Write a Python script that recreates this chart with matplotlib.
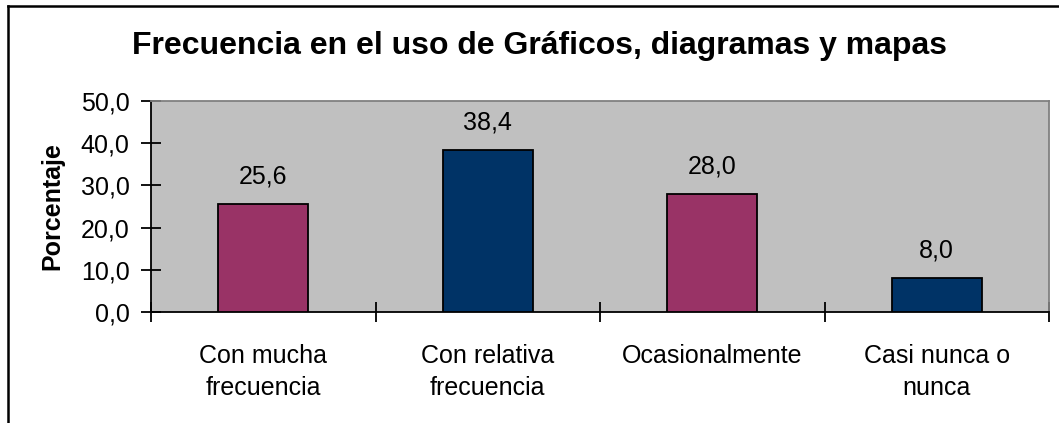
import matplotlib
matplotlib.use("Agg")
import matplotlib.pyplot as plt
from matplotlib.lines import Line2D

categories = ["Con mucha\nfrecuencia", "Con relativa\nfrecuencia", "Ocasionalmente", "Casi nunca o\nnunca"]
values = [25.6, 38.4, 28.0, 8.0]
bar_colors = ["#993366", "#003366", "#993366", "#003366"]
yticks = [0, 10, 20, 30, 40, 50]
ytick_labels = ["0,0", "10,0", "20,0", "30,0", "40,0", "50,0"]
value_labels = ["25,6", "38,4", "28,0", "8,0"]
title = "Frecuencia en el uso de Gráficos, diagramas y mapas"
ylabel = "Porcentaje"

plt.rcParams["font.family"] = ["Liberation Sans", "DejaVu Sans"]

W, H = 1059, 423
fig = plt.figure(figsize=(W / 100, H / 100), dpi=100)
ax = fig.add_axes([151 / W, 1 - 312 / H, (1049 - 151) / W, (312 - 101) / H])
ax.set_facecolor("#C0C0C0")

x = list(range(len(categories)))
ax.bar(x, values, width=0.4, color=bar_colors, edgecolor="black", linewidth=1.3, zorder=3)
for xi, v, lab in zip(x, values, value_labels):
    ax.annotate(lab, (xi, v), xytext=(0, 11), textcoords="offset points",
                ha="center", va="bottom", fontsize=18)

ax.set_xlim(-0.5, len(categories) - 0.5)
ax.set_ylim(0, 50)
ax.set_yticks(yticks)
ax.set_yticklabels(ytick_labels, fontsize=18)
ax.set_xticks([i + 0.5 for i in range(-1, len(categories))])
ax.set_xticklabels([])
ax.set_xticks(x, minor=True)
ax.set_xticklabels(categories, minor=True, fontsize=18, linespacing=1.45)
ax.tick_params(axis="x", which="minor", length=0, pad=23)
ax.tick_params(axis="x", which="major", direction="inout", length=15, width=1.3, color="black")
ax.tick_params(axis="y", direction="inout", length=15, width=1.3, pad=8)

for s in ["top", "right"]:
    ax.spines[s].set_color("#808080")
    ax.spines[s].set_linewidth(1.3)
for s in ["left", "bottom"]:
    ax.spines[s].set_color("black")
    ax.spines[s].set_linewidth(1.3)

ax.set_ylabel(ylabel, fontsize=18, fontweight="bold", labelpad=12)
fig.text(540 / W, 1 - 54 / H, title, ha="center", va="baseline", fontsize=23, fontweight="bold")

# chart border (left and top visible)
fig.add_artist(Line2D([8 / W, 8 / W], [0, 1 - 6 / H], color="black", linewidth=1.8))
fig.add_artist(Line2D([8 / W, 1], [1 - 6 / H, 1 - 6 / H], color="black", linewidth=1.8))

fig.savefig("out.png", dpi=100)
